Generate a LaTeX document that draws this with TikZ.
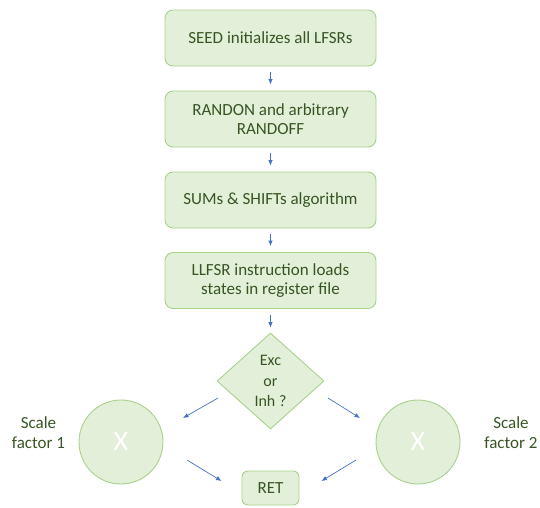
\documentclass[tikz,border=0pt]{standalone}
\usepackage{fontspec}
\setmainfont{Carlito}
\usetikzlibrary{shapes.geometric,arrows.meta,calc}
\definecolor{boxfill}{HTML}{E2EFD9}
\definecolor{boxline}{HTML}{A9D18E}
\definecolor{boxtext}{HTML}{375623}
\definecolor{arrowc}{HTML}{4472C4}
\tikzset{
  stepbox/.style={rectangle, rounded corners=8pt, draw=boxline, fill=boxfill,
    line width=0.9pt, minimum width=211pt, minimum height=56pt, text=boxtext,
    font=\fontsize{17}{18.5}\selectfont, align=center, inner sep=2pt},
  decision/.style={diamond, draw=boxline, fill=boxfill, line width=0.9pt,
    minimum width=107pt, minimum height=96pt, inner sep=0pt, text=boxtext,
    font=\fontsize{16}{20.5}\selectfont, align=center},
  mult/.style={circle, draw=boxline, fill=boxfill, line width=0.9pt,
    minimum size=84pt, inner sep=0pt, text=white, font=\fontsize{28}{30}\selectfont},
  endbox/.style={rectangle, rounded corners=6pt, draw=boxline, fill=boxfill,
    line width=0.9pt, minimum width=57pt, minimum height=34pt, text=boxtext,
    font=\fontsize{17}{19}\selectfont, inner sep=2pt},
  sidelabel/.style={text=boxtext, font=\fontsize{17}{20}\selectfont, align=center},
  arr/.style={draw=arrowc, line width=0.7pt, -{Latex[length=5.5pt,width=4.5pt]}},
}
\begin{document}
\begin{tikzpicture}[x=1pt,y=-1pt]
\useasboundingbox (0,0) rectangle (540,507);

% flow of steps
\node[stepbox] (b1) at (270.5,38) {SEED initializes all LFSRs};
\node[stepbox] (b2) at (270.5,119) {RANDON and arbitrary\\RANDOFF};
\node[stepbox] (b3) at (270.5,200) {SUMs \& SHIFTs algorithm};
\node[stepbox] (b4) at (270.5,280.5) {LLFSR instruction loads\\states in register file};
\node[decision] (d) at (270.5,381) {Exc\\or\\Inh ?};

% scaling branches
\node[mult] (c1) at (121,442) {X};
\node[mult] (c2) at (418,442) {X};
\node[endbox] (ret) at (270.5,488) {RET};
\node[sidelabel] (l1) at (38.5,433) {Scale\\factor 1};
\node[sidelabel] (l2) at (511,433) {Scale\\factor 2};

% connectors
\draw[arr, shorten <=6pt, shorten >=6pt] (b1) -- (b2);
\draw[arr, shorten <=6pt, shorten >=6pt] (b2) -- (b3);
\draw[arr, shorten <=6pt, shorten >=6pt] (b3) -- (b4);
\draw[arr, shorten <=6pt, shorten >=5pt] (b4) -- (d.north);
\draw[arr] ($(d.center)+(-52.5,17)$) -- ($(c1.center)+(62,-24)$);
\draw[arr] ($(d.center)+(57.5,17)$) -- ($(c2.center)+(-58,-24)$);
\draw[arr] ($(c1.center)+(66,18)$) -- ($(ret.west)+(-20,-7)$);
\draw[arr] ($(c2.center)+(-62,18)$) -- ($(ret.east)+(22,-7)$);
\end{tikzpicture}
\end{document}
